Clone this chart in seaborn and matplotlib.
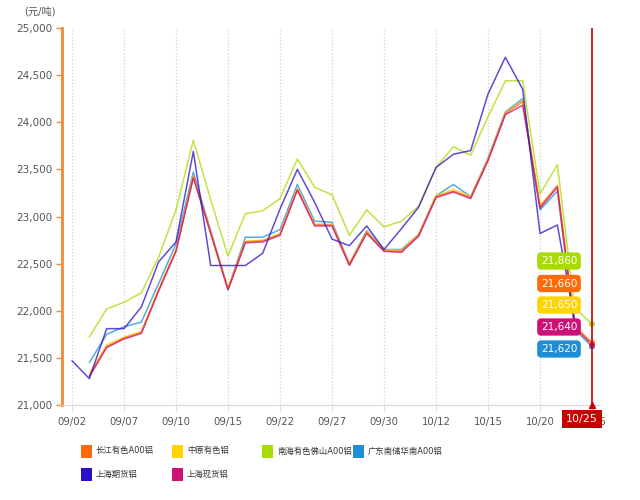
import numpy as np
import pandas as pd
import seaborn as sns
import matplotlib.pyplot as plt
from matplotlib.patches import Rectangle

# trading days shown on the x axis
dates = ['09/02', '09/03', '09/06', '09/07', '09/08', '09/09', '09/10', '09/13',
         '09/14', '09/15', '09/16', '09/17', '09/22', '09/23', '09/24', '09/27',
         '09/28', '09/29', '09/30', '10/08', '10/11', '10/12', '10/13', '10/14',
         '10/15', '10/18', '10/19', '10/20', '10/21', '10/22', '10/25']

nan = np.nan
# prices (元/吨)
changjiang = [nan, 21310, 21620, 21710, 21770, 22220, 22640, 23420, 22830, 22230,
              22730, 22740, 22810, 23290, 22910, 22910, 22490, 22830, 22640, 22630,
              22800, 23210, 23270, 23200, 23600, 24090, 24220, 23100, 23330, 21840, 21660]
zhongyuan = [nan, 21330, 21640, 21720, 21780, 22230, 22650, 23430, 22840, 22240,
             22740, 22750, 22820, 23300, 22920, 22920, 22500, 22840, 22650, 22640,
             22810, 23220, 23290, 23210, 23610, 24100, 24230, 23120, 23320, 21830, 21650]
nanhai = [nan, 21720, 22020, 22090, 22190, 22570, 23070, 23810, 23180, 22580,
          23030, 23060, 23190, 23610, 23310, 23230, 22800, 23070, 22890, 22950,
          23110, 23520, 23740, 23650, 24060, 24440, 24440, 23240, 23550, 22030, 21860]
guangdong = [nan, 21450, 21750, 21830, 21880, 22290, 22710, 23470, 22850, 22230,
             22780, 22780, 22860, 23340, 22950, 22940, 22500, 22850, 22650, 22650,
             22810, 23220, 23340, 23210, 23620, 24110, 24250, 23070, 23270, 21800, 21620]
shfe = [21470, 21280, 21810, 21810, 22040, 22520, 22730, 23690, 22480, 22480,
        22480, 22610, 23080, 23500, 23150, 22760, 22690, 22900, 22650, 22870,
        23100, 23520, 23660, 23700, 24300, 24690, 24350, 22820, 22910, 21900, nan]
shspot = [nan, 21300, 21610, 21700, 21760, 22210, 22630, 23410, 22820, 22220,
          22720, 22730, 22800, 23280, 22900, 22900, 22480, 22820, 22630, 22620,
          22790, 23200, 23260, 23190, 23590, 24080, 24180, 23090, 23310, 21820, 21640]

names = ['长江有色A00铝', '中原有色铝', '南海有色佛山A00铝', '广东南储华南A00铝', '上海期货铝', '上海现货铝']
colors = ['#ff6a0a', '#ffd400', '#a8dc00', '#1e8ed6', '#2a10c8', '#cc1177']
values = [changjiang, zhongyuan, nanhai, guangdong, shfe, shspot]

wide = pd.DataFrame({n: v for n, v in zip(names, values)})
wide['idx'] = range(len(dates))
df = wide.melt(id_vars='idx', var_name='series', value_name='price').dropna()

sns.set_style('white')
plt.rcParams['font.family'] = ['DejaVu Sans', 'Noto Sans CJK SC']

fig = plt.figure(figsize=(6.4, 5), dpi=100)
ax = fig.add_axes([62 / 640, 95 / 500, 538 / 640, 377 / 500])

palette = dict(zip(names, colors))
draw_order = ['南海有色佛山A00铝', '广东南储华南A00铝', '中原有色铝', '长江有色A00铝', '上海现货铝', '上海期货铝']
sns.lineplot(data=df, x='idx', y='price', hue='series', hue_order=draw_order,
             palette=palette, estimator=None, linewidth=1.1, alpha=0.75,
             legend=False, ax=ax)

# end points on the last day
last = df[df['idx'] == len(dates) - 1]
sns.scatterplot(data=last, x='idx', y='price', hue='series', palette=palette,
                s=18, edgecolor='none', legend=False, ax=ax, zorder=5, clip_on=False)

ax.set_xlim(-0.577, 30.46)
ax.set_ylim(21000, 25000)
ax.set_yticks(range(21000, 25001, 500))
ax.set_yticklabels([f'{v:,}' for v in range(21000, 25001, 500)])
ax.set_xticks(range(0, len(dates), 3))
ax.set_xticklabels(dates[::3])
ax.set_xlabel('')
ax.set_ylabel('')

ax.xaxis.grid(True, linestyle=':', color='#d0d0d0', linewidth=0.9)
ax.yaxis.grid(False)
for s in ['top', 'right']:
    ax.spines[s].set_visible(False)
ax.spines['left'].set_color('#f08a3c')
ax.spines['left'].set_linewidth(2)
ax.spines['bottom'].set_color('#d8d8d8')
ax.tick_params(axis='y', colors='#f08a3c', labelcolor='#555555', labelsize=7.5,
               length=4, width=1, pad=3, left=True)
ax.tick_params(axis='x', colors='#dddddd', labelcolor='#555555', labelsize=7.3,
               length=4, width=0.8, pad=5, bottom=True)

fig.text(40 / 640, 1 - 11 / 500, '(元/吨)', fontsize=7.3, color='#555555', ha='center', va='center')

# crosshair at the last day
ax.axvline(len(dates) - 1, color='#c80000', linewidth=1.2, zorder=6)
ax.plot([len(dates) - 1], [21000], marker='^', color='#c80000', markersize=5,
        clip_on=False, zorder=7)
ax.text((582 - 62) / 538, -14 / 377, dates[-1], transform=ax.transAxes,
        ha='center', va='center', fontsize=8, color='white', zorder=8,
        bbox=dict(boxstyle='square,pad=0.35', facecolor='#c80000', edgecolor='none'))

# tooltip value boxes, highest first
ends = sorted([(v[-1], c) for v, c in zip(values, colors) if not np.isnan(v[-1])], reverse=True)
label_y = [261, 283.5, 305, 327, 349]
for (val, col), py in zip(ends, label_y):
    ax.text((559 - 62) / 538, (405 - py) / 377, f'{val:,.0f}', transform=ax.transAxes,
            ha='center', va='center', fontsize=7.5, color='white', zorder=9,
            bbox=dict(boxstyle='round,pad=0.35,rounding_size=0.4', facecolor=col, edgecolor='none'))

# legend
leg_x = [81, 172, 262, 353]
leg_y = [451, 474]
for i, (n, c) in enumerate(zip(names, colors)):
    x0 = leg_x[i % 4]
    y0 = leg_y[i // 4]
    fig.add_artist(Rectangle((x0 / 640, 1 - (y0 + 6.5) / 500), 11 / 640, 13 / 500,
                             facecolor=c, edgecolor='none', transform=fig.transFigure))
    fig.text((x0 + 15) / 640, 1 - y0 / 500, n, fontsize=6.0, color='#333333',
             ha='left', va='center')

fig.savefig('out.png', dpi=100)
